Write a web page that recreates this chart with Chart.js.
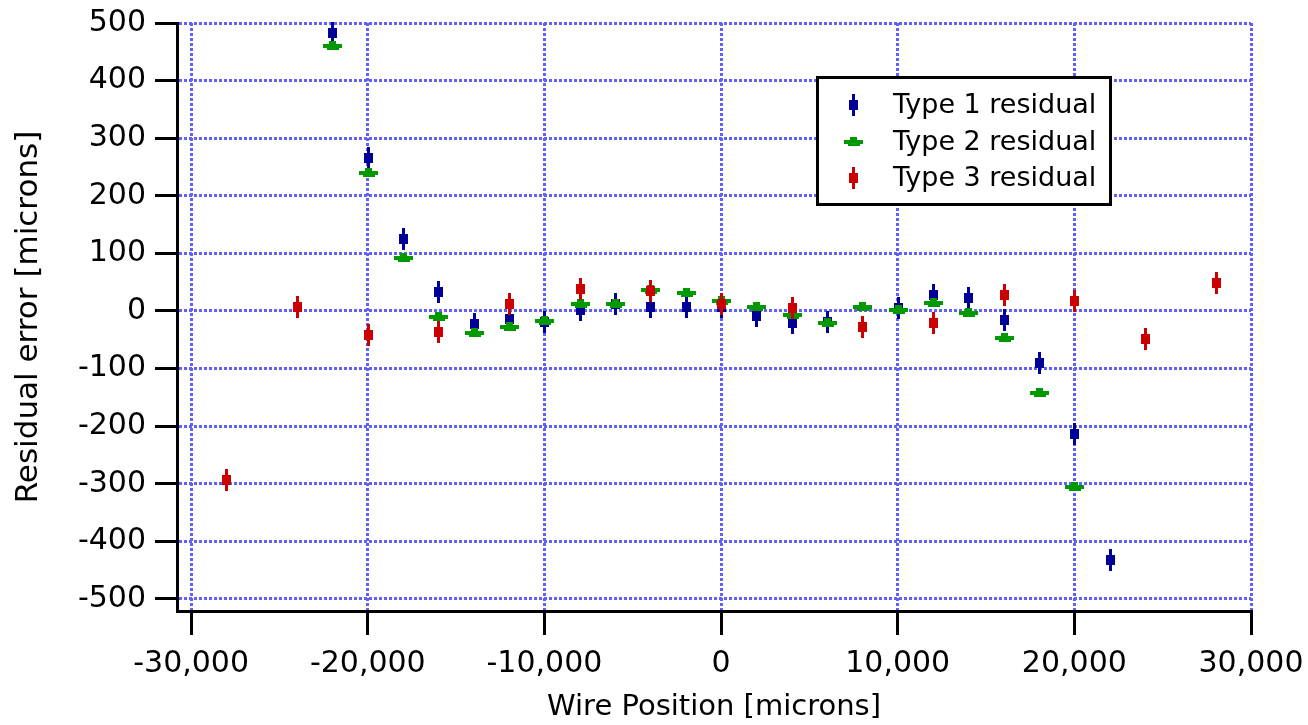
<!DOCTYPE html>
<html>
<head>
<meta charset="utf-8">
<title>Residual error vs wire position</title>
<script src="https://cdn.jsdelivr.net/npm/chart.js@4/dist/chart.umd.min.js"></script>
<style>
  html, body { margin: 0; padding: 0; background: #ffffff; }
  #wrap { width: 1308px; height: 725px; position: relative; }
</style>
</head>
<body>
<div id="wrap"><canvas id="chart" width="1308" height="725"></canvas></div>
<script>
// Wire positions [microns] and residuals [microns] for each residual type
const type1X = [-22000, -20000, -18000, -16000, -14000, -12000, -10000, -8000, -6000, -4000, -2000, 0, 2000, 4000, 6000, 10000, 12000, 14000, 16000, 18000, 20000, 22000];
const type1Y = [482, 266, 125, 33, -22, -14, -20, 1, 12, 6, 6, 7, -9, -21, -20, 5, 27, 22, -16, -91, -213, -433];

const type2X = [-22000, -20000, -18000, -16000, -14000, -12000, -10000, -8000, -6000, -4000, -2000, 0, 2000, 4000, 6000, 8000, 10000, 12000, 14000, 16000, 18000, 20000];
const type2Y = [460, 240, 92, -10, -38, -27, -17, 12, 12, 37, 32, 17, 6, -7, -21, 6, 1, 13, -4, -47, -143, -305];

const type3X = [-28000, -24000, -20000, -16000, -12000, -8000, -4000, 0, 4000, 8000, 12000, 16000, 20000, 24000, 28000];
const type3Y = [-294, 6, -42, -36, 12, 38, 35, 12, 5, -27, -21, 27, 17, -48, 49];

const seriesNames = ['Type 1 residual', 'Type 2 residual', 'Type 3 residual'];

// Axis ticks
const xTickValues = [-30000, -20000, -10000, 0, 10000, 20000, 30000];
const xTickLabels = ['-30,000', '-20,000', '-10,000', '0', '10,000', '20,000', '30,000'];
const yTickValues = [-500, -400, -300, -200, -100, 0, 100, 200, 300, 400, 500];
const yTickLabels = ['-500', '-400', '-300', '-200', '-100', '0', '100', '200', '300', '400', '500'];

const FONT = 'DejaVu Sans';
const GRID_COLOR = '#6060ff';

function toPoints(xs, ys) {
  return xs.map((x, i) => ({ x: x, y: ys[i] }));
}

// Marker glyphs: a small box on a vertical whisker, or a flat dash with a bump
function drawMarker(ctx, shape, color, px, py) {
  const x = Math.round(px), y = Math.round(py);
  ctx.fillStyle = color;
  if (shape === 'dash') {
    ctx.fillRect(x - 9, y - 2, 19, 4);
    ctx.fillRect(x - 3, y - 5, 7, 3);
    ctx.fillRect(x - 5, y + 2, 12, 2);
  } else {
    ctx.fillRect(x - 1, y - 11, 3, 22);
    ctx.fillRect(x - 4, y - 5, 9, 10);
  }
}

const markerPlugin = {
  id: 'residualMarkers',
  afterDatasetsDraw(chart) {
    const ctx = chart.ctx;
    ctx.save();
    chart.data.datasets.forEach((ds, i) => {
      const meta = chart.getDatasetMeta(i);
      meta.data.forEach(el => drawMarker(ctx, ds.markerShape, ds.markerColor, el.x, el.y));
    });
    ctx.restore();
  }
};

const legendBoxPlugin = {
  id: 'legendBox',
  afterDraw(chart) {
    const ctx = chart.ctx;
    ctx.save();
    ctx.lineWidth = 3;
    ctx.strokeStyle = '#000000';
    ctx.fillStyle = '#ffffff';
    ctx.fillRect(817.5, 77.5, 293, 127);
    ctx.strokeRect(817.5, 77.5, 293, 127);
    const rowY = [105, 142, 178];
    chart.data.datasets.forEach((ds, i) => {
      drawMarker(ctx, ds.markerShape, ds.markerColor, 853, rowY[i]);
      ctx.fillStyle = '#000000';
      ctx.font = '27px "' + FONT + '"';
      ctx.textAlign = 'left';
      ctx.textBaseline = 'middle';
      ctx.fillText(ds.label, 893, rowY[i] + 1);
    });
    ctx.restore();
  }
};

const datasets = [
  { label: seriesNames[0], data: toPoints(type1X, type1Y), markerShape: 'box', markerColor: '#000099' },
  { label: seriesNames[1], data: toPoints(type2X, type2Y), markerShape: 'dash', markerColor: '#009900' },
  { label: seriesNames[2], data: toPoints(type3X, type3Y), markerShape: 'box', markerColor: '#cc0000' }
].map(d => Object.assign(d, { pointRadius: 0, pointHoverRadius: 0, showLine: false }));

new Chart(document.getElementById('chart'), {
  type: 'scatter',
  data: { datasets: datasets },
  plugins: [markerPlugin, legendBoxPlugin],
  options: {
    responsive: false,
    animation: false,
    events: [],
    layout: { padding: { top: 23, right: 57, left: 0, bottom: 0 } },
    plugins: { legend: { display: false }, tooltip: { enabled: false } },
    scales: {
      x: {
        type: 'linear',
        min: -30800,
        max: 30000,
        afterFit(scale) { scale.height = 114; scale.paddingLeft = 0; scale.paddingRight = 0; },
        afterBuildTicks(scale) { scale.ticks = xTickValues.map(v => ({ value: v })); },
        grid: { color: GRID_COLOR, lineWidth: 3, drawTicks: true, tickLength: 24, tickColor: '#000000', tickWidth: 3, tickBorderDash: [] },
        border: { display: true, color: '#000000', width: 3, dash: [3, 2] },
        ticks: {
          autoSkip: false, maxRotation: 0, padding: 11, color: '#000000',
          font: { family: FONT, size: 30 },
          callback: (v, i) => xTickLabels[i]
        },
        title: {
          display: true, text: 'Wire Position [microns]', color: '#000000',
          font: { family: FONT, size: 29 }, padding: { top: 0, bottom: 0 }
        }
      },
      y: {
        type: 'linear',
        min: -521,
        max: 500,
        afterFit(scale) { scale.width = 177; scale.paddingTop = 0; scale.paddingBottom = 0; },
        afterBuildTicks(scale) { scale.ticks = yTickValues.map(v => ({ value: v })); },
        grid: { color: GRID_COLOR, lineWidth: 3, drawTicks: true, tickLength: 22, tickColor: '#000000', tickWidth: 3, tickBorderDash: [] },
        border: { display: true, color: '#000000', width: 3, dash: [3, 2] },
        ticks: {
          autoSkip: false, padding: 9, color: '#000000',
          font: { family: FONT, size: 30 },
          callback: (v, i) => yTickLabels[i]
        },
        title: {
          display: true, text: 'Residual error [microns]', color: '#000000',
          font: { family: FONT, size: 31 }, padding: { top: 10, bottom: 0 }
        }
      }
    }
  }
});
</script>
</body>
</html>
